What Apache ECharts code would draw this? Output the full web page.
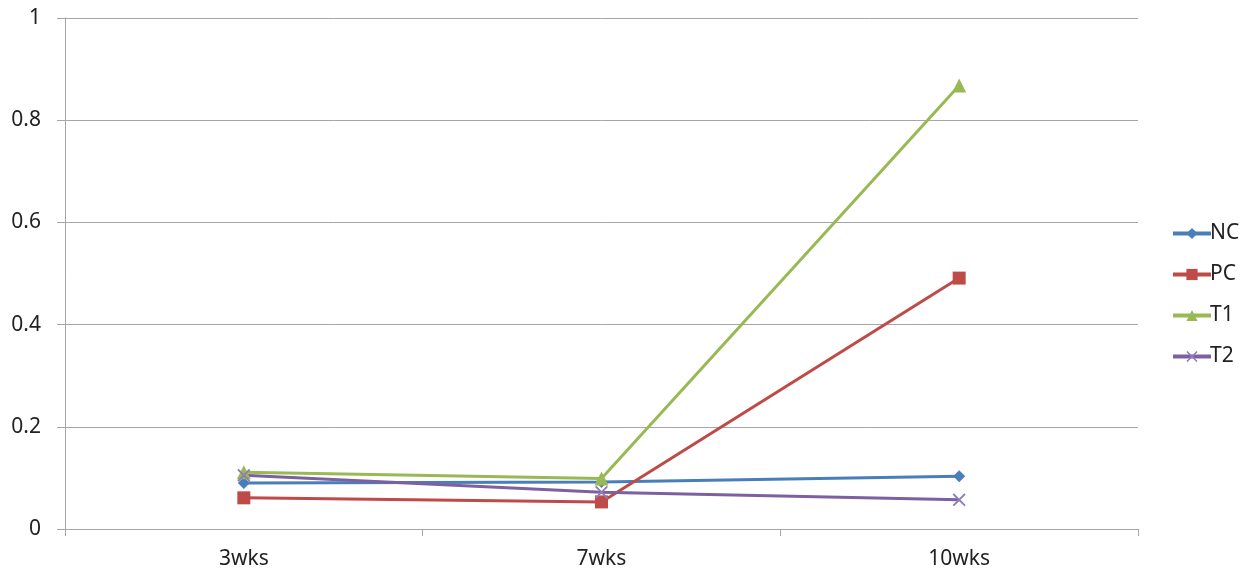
<!DOCTYPE html>
<html>
<head>
<meta charset="utf-8">
<script src="https://cdn.jsdelivr.net/npm/echarts@6/dist/echarts.min.js"></script>
<style>
  html, body { margin: 0; padding: 0; background: #fff; }
  #chart { width: 1252px; height: 578px; }
</style>
</head>
<body>
<div id="chart"></div>
<script>
// Measurement timepoints
const categories = ['3wks', '7wks', '10wks'];

// Group values per timepoint
const ncValues = [0.090, 0.092, 0.103];
const pcValues = [0.061, 0.053, 0.491];
const t1Values = [0.111, 0.099, 0.868];
const t2Values = [0.105, 0.072, 0.057];

const seriesNames = ['NC', 'PC', 'T1', 'T2'];
const seriesColors = ['#4A7EBB', '#BE4B48', '#98B954', '#7D60A0'];

// Thin X-shaped marker
const crossPath = 'path://M0,1 L1,0 L5,4 L9,0 L10,1 L6,5 L10,9 L9,10 L5,6 L1,10 L0,9 L4,5 Z';

const symbols = ['diamond', 'rect', 'triangle', crossPath];
const symbolSizes = [12, 13, 14, 13];
const valueSets = [ncValues, pcValues, t1Values, t2Values];

const fontFamily = '"Noto Sans", "DejaVu Sans", sans-serif';

const chart = echarts.init(document.getElementById('chart'));

chart.setOption({
  animation: false,
  backgroundColor: '#ffffff',
  grid: { left: 65, right: 114, top: 18, bottom: 49 },
  legend: {
    orient: 'vertical',
    left: 1166,
    top: 218,
    itemGap: 20,
    itemWidth: 38,
    itemHeight: 14,
    lineStyle: { width: 4 },
    textStyle: { fontSize: 21, color: '#222', fontFamily: fontFamily, padding: [0, 0, 0, -6] },
    data: seriesNames
  },
  xAxis: {
    type: 'category',
    data: categories,
    boundaryGap: true,
    axisLine: { lineStyle: { color: '#a6a6a6', width: 1 } },
    axisTick: { show: true, length: 7, lineStyle: { color: '#a6a6a6' } },
    axisLabel: { fontSize: 21, color: '#222', fontFamily: fontFamily, margin: 20 }
  },
  yAxis: {
    type: 'value',
    min: 0,
    max: 1,
    interval: 0.2,
    axisLine: { show: true, lineStyle: { color: '#a6a6a6', width: 1 } },
    axisTick: { show: true, length: 8, lineStyle: { color: '#a6a6a6' } },
    splitLine: { lineStyle: { color: '#a6a6a6', width: 1 } },
    axisLabel: {
      fontSize: 21, color: '#222', fontFamily: fontFamily, margin: 24,
      formatter: v => String(Math.round(v * 10) / 10)
    }
  },
  series: seriesNames.map((name, i) => ({
    name: name,
    type: 'line',
    data: valueSets[i],
    symbol: symbols[i],
    symbolSize: symbolSizes[i],
    showAllSymbol: true,
    lineStyle: { color: seriesColors[i], width: 3 },
    itemStyle: { color: i === 3 ? '#8F7CB8' : seriesColors[i] },
    emphasis: { disabled: true }
  }))
});
</script>
</body>
</html>
